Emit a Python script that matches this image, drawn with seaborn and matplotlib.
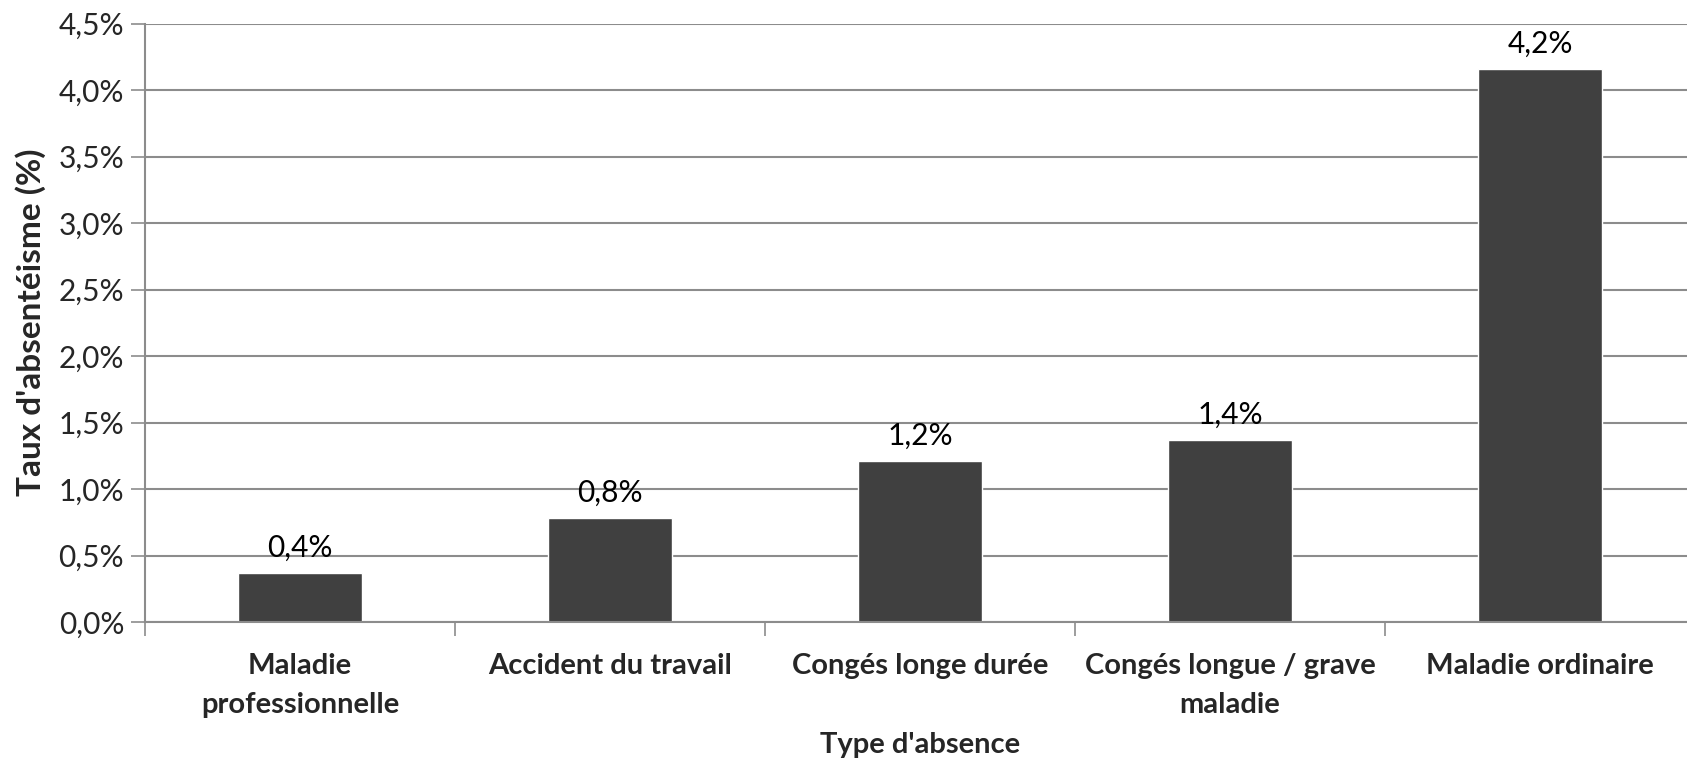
import numpy as np
import pandas as pd
import matplotlib
matplotlib.use("Agg")
import matplotlib.pyplot as plt
from matplotlib.ticker import FuncFormatter, FixedLocator
import seaborn as sns

# données
categories = ["Maladie\nprofessionnelle", "Accident du travail", "Congés longe durée",
              "Congés longue / grave\nmaladie", "Maladie ordinaire"]
taux = [0.37, 0.78, 1.21, 1.37, 4.16]
yticks = [0.0, 0.5, 1.0, 1.5, 2.0, 2.5, 3.0, 3.5, 4.0, 4.5]

df = pd.DataFrame({"type": categories, "taux": taux})

sns.set_style("white")
plt.rcParams["font.family"] = ["Lato", "DejaVu Sans"]

W, H = 1687, 764
fig = plt.figure(figsize=(W / 100, H / 100), dpi=100)
ax = fig.add_axes([145 / W, 1 - 622 / H, 1550 / W, (622 - 23.5) / H])

sns.barplot(data=df, x="type", y="taux", color="#404040", width=0.4,
            saturation=1, ax=ax)

def fr(v):
    return f"{v:.1f}".replace(".", ",") + "%"

ax.bar_label(ax.containers[0], labels=[fr(v) for v in taux], padding=8,
             fontsize=21.5, color="black")

ax.set_ylim(0, 4.5)
ax.set_xlim(-0.5, 4.5)
ax.set_yticks(yticks)
ax.yaxis.set_major_formatter(FuncFormatter(lambda v, p: fr(v)))
ax.yaxis.grid(True, color="#8c8c8c", linewidth=1.5)
ax.set_axisbelow(True)

ax.tick_params(axis="y", labelsize=21.5, length=10, width=1.2, color="#8c8c8c",
               left=True, pad=5)
ax.tick_params(axis="x", which="major", length=0, labelsize=21, pad=22)
ax.xaxis.set_minor_locator(FixedLocator(np.arange(-0.5, 5, 1)))
ax.tick_params(axis="x", which="minor", bottom=True, length=10, width=1.2,
               color="#8c8c8c")
for lab in ax.get_xticklabels():
    lab.set_fontweight("bold")
    lab.set_color("#262626")
    lab.set_linespacing(1.65)

for s in ["top", "right"]:
    ax.spines[s].set_visible(False)
for s in ["left", "bottom"]:
    ax.spines[s].set_color("#8c8c8c")
    ax.spines[s].set_linewidth(1.5)

ax.set_xlabel("Type d'absence", fontsize=21, fontweight="bold", labelpad=10)
ax.set_ylabel("Taux d'absentéisme (%)", fontsize=24, fontweight="bold", labelpad=9)

fig.savefig("out.png", dpi=100)
